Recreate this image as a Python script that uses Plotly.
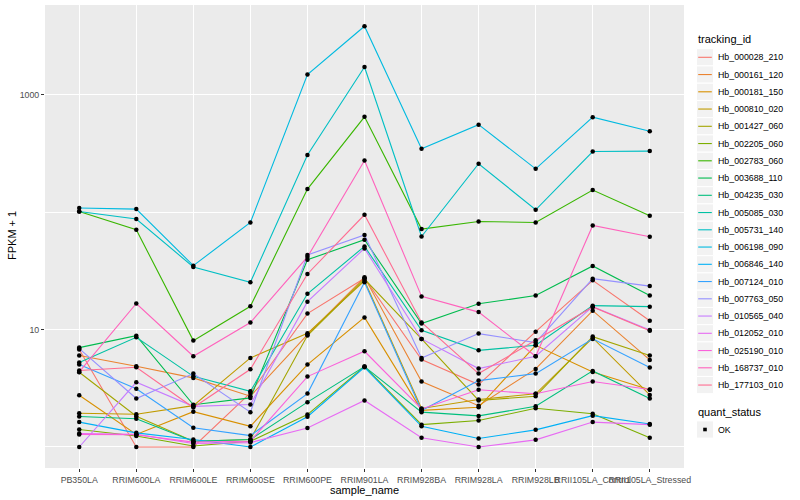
import plotly.graph_objects as go

samples = ["PB350LA", "RRIM600LA", "RRIM600LE", "RRIM600SE", "RRIM600PE", "RRIM901LA",
           "RRIM928BA", "RRIM928LA", "RRIM928LB", "RRII105LA_Control", "RRII105LA_Stressed"]

tracking_ids = ["Hb_000028_210", "Hb_000161_120", "Hb_000181_150", "Hb_000810_020", "Hb_001427_060",
                "Hb_002205_060", "Hb_002783_060", "Hb_003688_110", "Hb_004235_030", "Hb_005085_030",
                "Hb_005731_140", "Hb_006198_090", "Hb_006846_140", "Hb_007124_010", "Hb_007763_050",
                "Hb_010565_040", "Hb_012052_010", "Hb_025190_010", "Hb_168737_010", "Hb_177103_010"]

# FPKM + 1 per sample
hb_000028_210 = [6.76, 1.0, 1.0, 2.89, 13.7, 27.4, 5.56, 3.40, 9.61, 26.3, 11.9]
hb_000161_120 = [6.01, 4.87, 3.88, 2.71, 9.06, 27.9, 3.61, 2.25, 4.63, 14.5, 5.52]
hb_000181_150 = [2.76, 1.28, 2.00, 1.50, 5.04, 12.7, 2.05, 2.18, 7.35, 4.36, 3.07]
hb_000810_020 = [1.94, 1.90, 2.25, 5.74, 9.3, 26.1, 2.13, 2.54, 2.84, 8.50, 2.78]
hb_001427_060 = [4.33, 1.83, 1.12, 1.16, 8.9, 27.0, 8.34, 2.49, 2.71, 8.72, 6.01]
hb_002205_060 = [1.41, 1.24, 1.02, 1.12, 1.89, 4.84, 1.55, 1.68, 2.14, 1.92, 1.20]
hb_002783_060 = [101.6, 71.0, 8.06, 15.8, 157.5, 650, 71.9, 83.5, 81.9, 154.5, 93.3]
hb_003688_110 = [7.03, 8.89, 2.29, 2.62, 39.4, 58.3, 11.25, 16.6, 19.5, 34.9, 19.5]
hb_004235_030 = [1.82, 1.74, 1.12, 1.16, 2.41, 4.84, 1.98, 1.84, 2.22, 4.45, 2.59]
hb_005085_030 = [5.24, 8.60, 4.00, 2.98, 20.2, 51.2, 9.86, 6.66, 7.35, 16.0, 15.7]
hb_005731_140 = [101.6, 87.5, 34.2, 25.3, 308, 1730, 62.2, 259, 105, 329, 332]
hb_006198_090 = [108.6, 106.4, 35.1, 81.9, 1489, 3845, 347, 558, 234.5, 646, 491]
hb_006846_140 = [1.63, 1.32, 1.16, 1.00, 1.81, 4.78, 1.50, 1.18, 1.40, 1.85, 1.57]
hb_007124_010 = [5.04, 3.13, 1.46, 1.25, 2.85, 25.3, 2.05, 3.68, 4.22, 8.34, 4.75]
hb_007763_050 = [6.89, 2.59, 4.22, 1.98, 43.2, 64.0, 5.74, 9.25, 7.75, 27.2, 23.5]
hb_010565_040 = [1.00, 3.56, 2.22, 2.30, 17.3, 49.2, 8.34, 4.66, 5.93, 15.7, 9.94]
hb_012052_010 = [1.30, 1.28, 1.07, 1.09, 1.45, 2.49, 1.20, 1.00, 1.15, 1.63, 1.55]
hb_025190_010 = [1.28, 1.27, 1.10, 1.12, 3.98, 6.54, 2.11, 3.07, 2.84, 3.61, 3.09]
hb_168737_010 = [4.36, 16.7, 5.93, 11.5, 41.6, 276, 19.2, 14.1, 5.93, 77.2, 61.9]
hb_177103_010 = [4.48, 4.78, 2.17, 4.59, 29.8, 95.2, 11.5, 4.22, 8.11, 15.6, 9.80]

series_values = [hb_000028_210, hb_000161_120, hb_000181_150, hb_000810_020, hb_001427_060,
                 hb_002205_060, hb_002783_060, hb_003688_110, hb_004235_030, hb_005085_030,
                 hb_005731_140, hb_006198_090, hb_006846_140, hb_007124_010, hb_007763_050,
                 hb_010565_040, hb_012052_010, hb_025190_010, hb_168737_010, hb_177103_010]

colors = ["#F8766D", "#EA8331", "#D89000", "#C09B00", "#A3A500", "#7CAE00", "#39B600", "#00BB4E",
          "#00BF7D", "#00C1A3", "#00BFC4", "#00BAE0", "#00B0F6", "#35A2FF", "#9590FF", "#C77CFF",
          "#E76BF3", "#FA62DB", "#FF62BC", "#FF6C91"]

y_ticks = [10, 1000]
y_tick_text = ["10", "1000"]
y_minor = [1, 100]

FONT = "Liberation Sans, Arial, sans-serif"
W, H = 800, 500
ML, MR, MT, MB = 45, 116, 5, 32
PW, PH = W - ML - MR, H - MT - MB

fig = go.Figure()
for name, vals, col in zip(tracking_ids, series_values, colors):
    fig.add_trace(go.Scatter(x=samples, y=vals, mode="lines", name=name,
                             line=dict(color=col, width=1.1), showlegend=False))
for name, vals in zip(tracking_ids, series_values):
    fig.add_trace(go.Scatter(x=samples, y=vals, mode="markers", name=name,
                             marker=dict(color="black", size=4.5), showlegend=False))

def px_x(px):
    return (px - ML) / PW

def px_y(py):
    return (H - MB - py) / PH

shapes = []
annotations = []
annotations.append(dict(x=px_x(696), y=px_y(39), xref="paper", yref="paper", text="tracking_id",
                        showarrow=False, xanchor="left", yanchor="middle",
                        font=dict(family=FONT, size=11, color="black")))
step = 17.25
for i, (name, col) in enumerate(zip(tracking_ids, colors)):
    cy = 57.3 + i * step
    shapes.append(dict(type="rect", xref="paper", yref="paper",
                       x0=px_x(696.5), x1=px_x(713.5), y0=px_y(cy - step / 2), y1=px_y(cy + step / 2),
                       fillcolor="#F2F2F2", line=dict(color="white", width=1), layer="above"))
    shapes.append(dict(type="line", xref="paper", yref="paper",
                       x0=px_x(698.2), x1=px_x(711.8), y0=px_y(cy), y1=px_y(cy),
                       line=dict(color=col, width=1.1), layer="above"))
    annotations.append(dict(x=px_x(716), y=px_y(cy), xref="paper", yref="paper", text=name,
                            showarrow=False, xanchor="left", yanchor="middle",
                            font=dict(family=FONT, size=8.8, color="black")))

annotations.append(dict(x=px_x(696), y=px_y(412), xref="paper", yref="paper", text="quant_status",
                        showarrow=False, xanchor="left", yanchor="middle",
                        font=dict(family=FONT, size=11, color="black")))
cy = 429.5
shapes.append(dict(type="rect", xref="paper", yref="paper",
                   x0=px_x(696.5), x1=px_x(713.5), y0=px_y(cy - step / 2), y1=px_y(cy + step / 2),
                   fillcolor="#F2F2F2", line=dict(color="white", width=1), layer="above"))
shapes.append(dict(type="rect", xref="paper", yref="paper",
                   x0=px_x(703.2), x1=px_x(706.8), y0=px_y(cy - 1.8), y1=px_y(cy + 1.8),
                   fillcolor="black", line=dict(width=0), layer="above"))
annotations.append(dict(x=px_x(716), y=px_y(cy), xref="paper", yref="paper", text="OK",
                        showarrow=False, xanchor="left", yanchor="middle",
                        font=dict(family=FONT, size=8.8, color="black")))

# axis titles placed like ggplot's
annotations.append(dict(x=px_x(364), y=px_y(490), xref="paper", yref="paper", text="sample_name",
                        showarrow=False, xanchor="center", yanchor="middle",
                        font=dict(family=FONT, size=11, color="black")))
annotations.append(dict(x=px_x(12), y=px_y(236), xref="paper", yref="paper", text="FPKM + 1",
                        showarrow=False, xanchor="center", yanchor="middle", textangle=-90,
                        font=dict(family=FONT, size=11, color="black")))

fig.update_layout(
    width=W, height=H,
    margin=dict(l=ML, r=MR, t=MT, b=MB, autoexpand=False),
    paper_bgcolor="white", plot_bgcolor="#EBEBEB",
    font=dict(family=FONT, size=8.8, color="#4D4D4D"),
    shapes=shapes, annotations=annotations,
    xaxis=dict(type="category", range=[-0.6, len(samples) - 0.4], showgrid=True,
               gridcolor="white", gridwidth=1.1, zeroline=False, showline=False,
               ticks="outside", ticklen=3, tickwidth=1, tickcolor="#333333", tickangle=0,
               automargin=False,
               tickfont=dict(family=FONT, size=8.8, color="#4D4D4D")),
    yaxis=dict(type="log", range=[-0.179, 3.766], tickmode="array", tickvals=y_ticks,
               ticktext=y_tick_text, showgrid=True, gridcolor="white", gridwidth=1.1,
               zeroline=False, showline=False, ticks="outside", ticklen=3, tickwidth=1,
               tickcolor="#333333", tickfont=dict(family=FONT, size=8.8, color="#4D4D4D"),
               automargin=False,
               minor=dict(tickmode="array", tickvals=y_minor, showgrid=True,
                          gridcolor="white", gridwidth=0.55, ticks="")),
)

fig.write_html("out.html", config={"displayModeBar": False},
               post_script="document.body.style.margin='0px';document.body.style.overflow='hidden';")
